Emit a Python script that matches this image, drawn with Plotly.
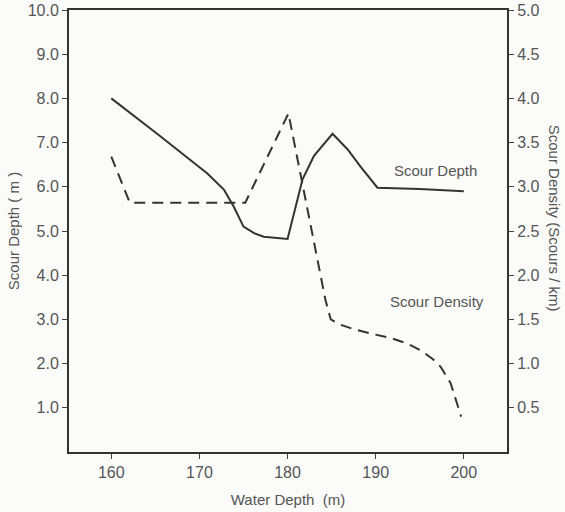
import plotly.graph_objects as go

# Scour depth (left axis, m)
depth_x = [160, 165.2, 170.9, 172.8, 173.9, 175, 176.2, 177.3, 180, 180.9, 181.7, 183, 185.1, 186.8, 188.3, 190.2, 195, 200]
scour_depth = [8.0, 7.2, 6.3, 5.93, 5.55, 5.1, 4.95, 4.87, 4.82, 5.55, 6.17, 6.7, 7.2, 6.85, 6.45, 5.98, 5.95, 5.9]

# Scour density (right axis, scours/km)
dens_x = [160, 162.1, 175.2, 180.1, 184.3, 184.9, 186, 187.5, 189.4, 191.7, 193.5, 195.1, 196.5, 197.4, 198.5, 199.7]
scour_density = [3.34, 2.82, 2.82, 3.83, 1.72, 1.5, 1.44, 1.39, 1.34, 1.29, 1.23, 1.15, 1.05, 0.96, 0.78, 0.40]

left_ticks = [1, 2, 3, 4, 5, 6, 7, 8, 9, 10]
left_labels = ["1.0", "2.0", "3.0", "4.0", "5.0", "6.0", "7.0", "8.0", "9.0", "10.0"]
right_ticks = [0.5, 1.0, 1.5, 2.0, 2.5, 3.0, 3.5, 4.0, 4.5, 5.0]
right_labels = ["0.5", "1.0", "1.5", "2.0", "2.5", "3.0", "3.5", "4.0", "4.5", "5.0"]
x_ticks = [160, 170, 180, 190, 200]

ink = "#333333"
txt = "#555555"
font = "Liberation Sans"

fig = go.Figure()
fig.add_trace(go.Scatter(x=depth_x, y=scour_depth, mode="lines",
                         line=dict(color=ink, width=2), yaxis="y", showlegend=False))
fig.add_trace(go.Scatter(x=dens_x, y=scour_density, mode="lines",
                         line=dict(color=ink, width=2, dash="11px,7px"), yaxis="y2", showlegend=False))

fig.update_layout(
    width=565, height=512,
    margin=dict(l=69, r=58, t=10, b=60, autoexpand=False),
    paper_bgcolor="#fbfbfa", plot_bgcolor="#fbfbfa",
    font=dict(family=font, color=txt, size=15),
    xaxis=dict(range=[155.2, 204.9], tickvals=x_ticks, ticks="outside", ticklen=5,
               showline=True, linecolor=ink, linewidth=2, mirror=True, showgrid=False,
               zeroline=False, tickfont=dict(size=16, color=txt), automargin=False,
               title=dict(text="Water Depth  (m)", font=dict(size=15, color=txt), standoff=14)),
    yaxis=dict(range=[0, 10], tickvals=left_ticks, ticktext=left_labels, ticks="outside",
               ticklen=5, showline=True, linecolor=ink, linewidth=2, showgrid=False,
               zeroline=False, tickfont=dict(size=16, color=txt), automargin=False,
               title=dict(text="Scour Depth ( m )", font=dict(size=15, color=txt), standoff=4)),
    yaxis2=dict(range=[0, 5], overlaying="y", side="right", tickvals=right_ticks,
                ticktext=right_labels, ticks="outside", ticklen=5, showline=True,
                linecolor=ink, linewidth=2, showgrid=False, zeroline=False,
                automargin=False, tickfont=dict(size=16, color=txt)),
    annotations=[
        dict(text="Scour Density (Scours / km)", x=1.0, xref="paper", xshift=47,
             y=0.53, yref="paper", textangle=90, showarrow=False,
             font=dict(size=15, color=txt), xanchor="center", yanchor="middle"),
        dict(text="Scour Depth", x=191.9, y=6.38, xref="x", yref="y", showarrow=False,
             xanchor="left", font=dict(size=15, color=txt)),
        dict(text="Scour Density", x=191.45, y=1.7, xref="x", yref="y2", showarrow=False,
             xanchor="left", font=dict(size=15, color=txt)),
    ],
)

fig.write_html("out.html", config={"displayModeBar": False},
               post_script="document.body.style.margin='0';document.body.style.padding='0';")
